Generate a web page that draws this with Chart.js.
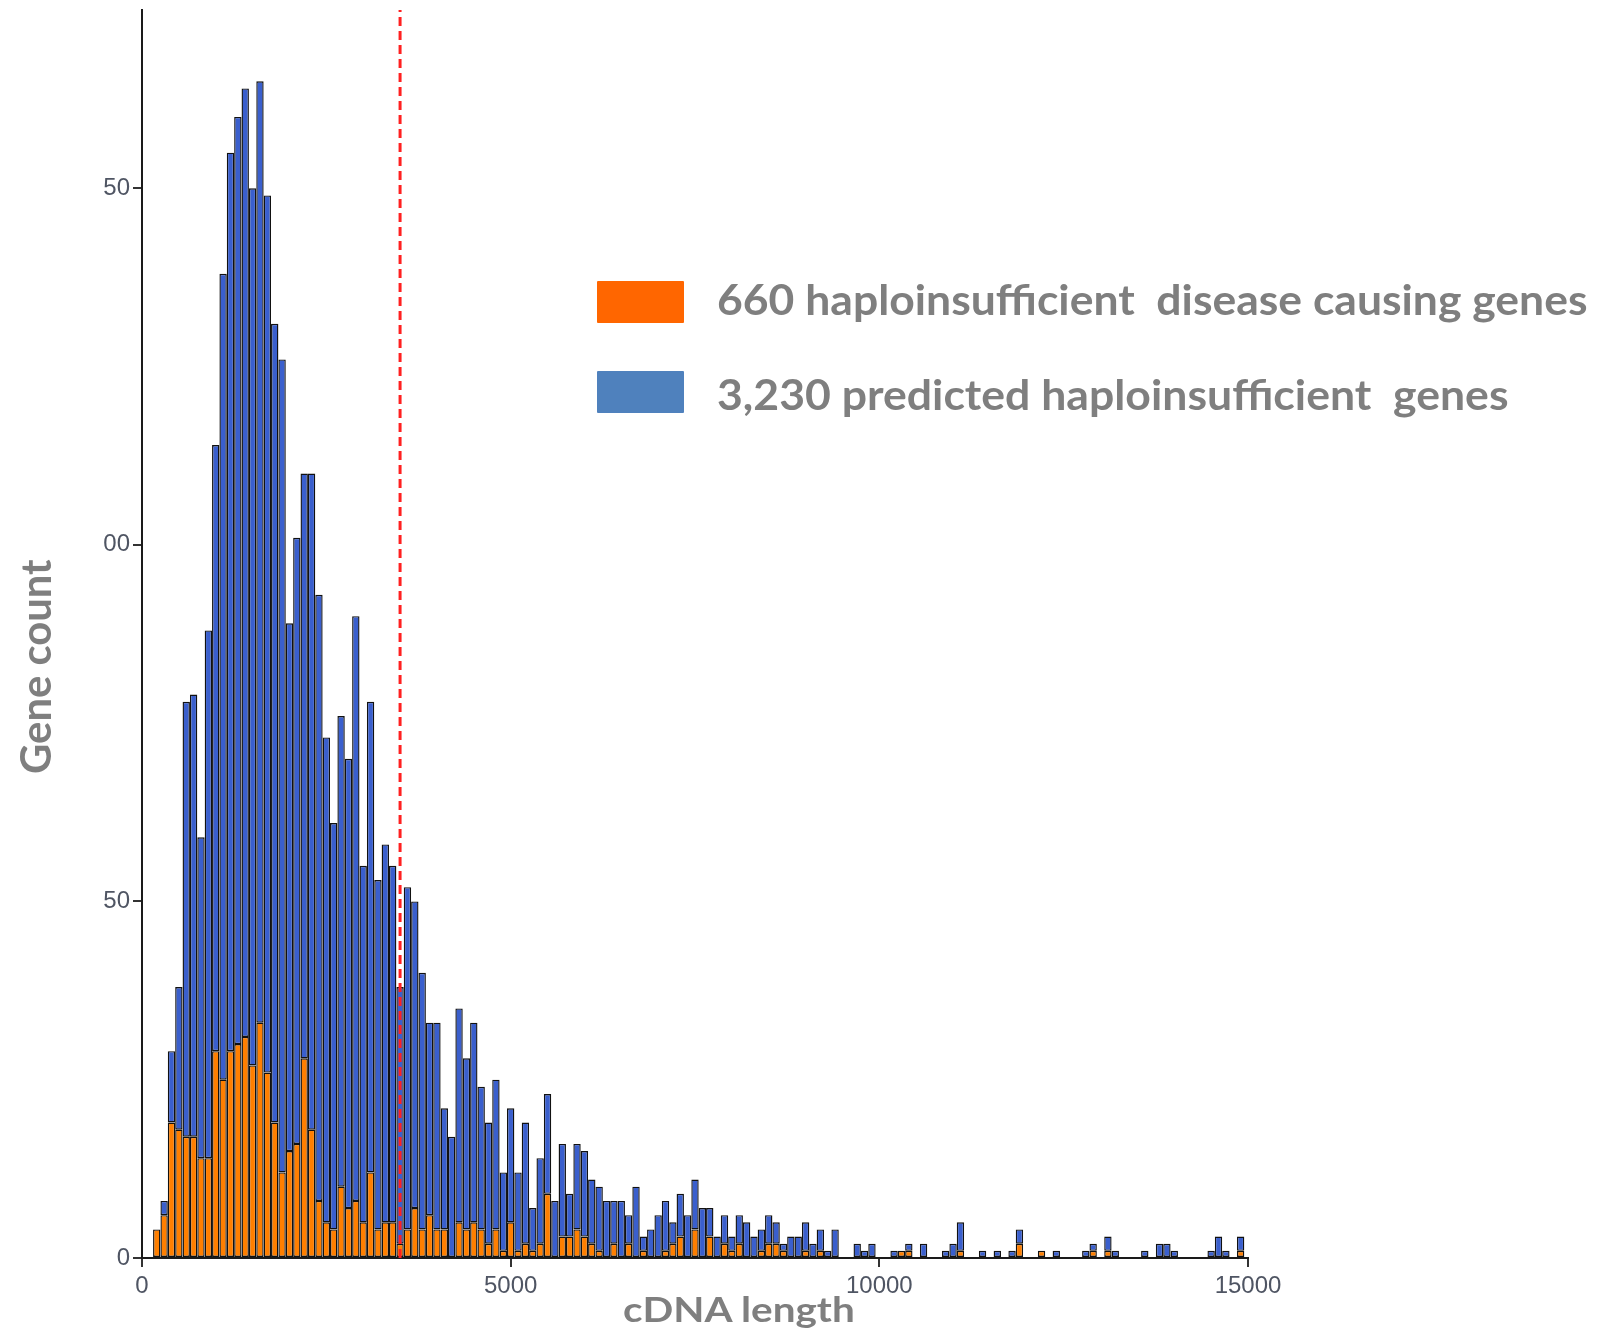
<!DOCTYPE html>
<html>
<head>
<meta charset="utf-8">
<title>cDNA length of haploinsufficient genes</title>
<script src="https://cdn.jsdelivr.net/npm/chart.js@4.4.1/dist/chart.umd.min.js"></script>
<style>
  html, body { margin: 0; padding: 0; background: #fff; }
  #wrap { position: relative; width: 1601px; height: 1333px; overflow: hidden; background: #fff; }
  #chart { position: absolute; left: 0; top: 0; }
  .lbl { position: absolute; font-family: Lato, "Open Sans", sans-serif; font-weight: 700;
         color: #7f7f7f; white-space: pre; }
  .swatch { position: absolute; width: 87px; height: 42px; border-radius: 1px; }
</style>
</head>
<body>
<div id="wrap">
  <canvas id="chart" width="1601" height="1333"></canvas>
  <div class="swatch" style="left:597px;top:281px;background:#ff6600"></div>
  <div class="swatch" style="left:597px;top:371px;background:#4f81bd"></div>
  <div class="lbl" id="leg1">660 haploinsufficient  disease causing genes</div>
  <div class="lbl" id="leg2">3,230 predicted haploinsufficient  genes</div>
  <div class="lbl" id="xtitle">cDNA length</div>
  <div class="lbl" id="ytitle">Gene count</div>
</div>
<script>
// histogram, 100 bp bins centred on 0, 100, ..., 14900 (stacked: disease genes at the bottom)
const BIN_WIDTH = 100;

// orange: haploinsufficient disease causing genes per bin
const DISEASE = [
  0, 0, 4, 6, 19, 18, 17, 17, 14, 14,
  29, 25, 29, 30, 31, 27, 33, 26, 19, 12,
  15, 16, 28, 18, 8, 5, 4, 10, 7, 8,
  5, 12, 4, 5, 5, 2, 4, 7, 4, 6,
  4, 4, 0, 5, 4, 5, 4, 2, 4, 1,
  5, 1, 2, 1, 2, 9, 0, 3, 3, 4,
  3, 2, 1, 0, 2, 0, 2, 0, 1, 0,
  0, 1, 2, 3, 0, 4, 0, 3, 0, 2,
  1, 2, 0, 0, 1, 2, 2, 1, 0, 0,
  1, 0, 1, 0, 0, 0, 0, 0, 0, 0,
  0, 0, 0, 1, 1, 0, 0, 0, 0, 0,
  0, 1, 0, 0, 0, 0, 0, 0, 0, 2,
  0, 0, 1, 0, 0, 0, 0, 0, 0, 1,
  0, 1, 0, 0, 0, 0, 0, 0, 0, 0,
  0, 0, 0, 0, 0, 0, 0, 0, 0, 1,
];

// blue: predicted haploinsufficient genes per bin (segment stacked on top of orange)
const PREDICTED = [
  0, 0, 0, 2, 10, 20, 61, 62, 45, 74,
  85, 113, 126, 130, 133, 123, 132, 123, 112, 114,
  74, 85, 82, 92, 85, 68, 57, 66, 63, 82,
  50, 66, 49, 53, 50, 36, 48, 43, 36, 27,
  29, 17, 17, 30, 24, 28, 20, 17, 21, 11,
  16, 11, 17, 6, 12, 14, 8, 13, 6, 12,
  12, 9, 9, 8, 6, 8, 4, 10, 2, 4,
  6, 7, 3, 6, 6, 7, 7, 4, 3, 4,
  2, 4, 5, 3, 3, 4, 3, 1, 3, 3,
  4, 2, 3, 1, 4, 0, 0, 2, 1, 2,
  0, 0, 1, 0, 1, 0, 2, 0, 0, 1,
  2, 4, 0, 0, 1, 0, 1, 0, 1, 2,
  0, 0, 0, 0, 1, 0, 0, 0, 1, 1,
  0, 2, 1, 0, 0, 0, 1, 0, 2, 2,
  1, 0, 0, 0, 0, 1, 3, 1, 0, 2,
];

const X_TICKS = [0, 5000, 10000, 15000];
const Y_TICKS = [0, 50, 100, 150];
const X_MAX = 15000;
const Y_MAX = 175;
const CUTOFF = 3500;

const toXY = vals => vals.map((v, i) => ({ x: i * BIN_WIDTH, y: v }));

const tickFont = { family: "Liberation Sans", size: 24 };
const tickColor = "#4f5563";
const axisGrid = { display: true, drawOnChartArea: false, drawTicks: true, tickLength: 9,
                   color: "#333", lineWidth: 2, offset: false };
const axisBorder = { display: true, color: "#1a1a1a", width: 2 };

const barStyle = { borderColor: "#111", borderWidth: 1.4, borderSkipped: false, inflateAmount: 0,
                   barPercentage: 1, categoryPercentage: 1, order: 1 };

new Chart(document.getElementById("chart").getContext("2d"), {
  type: "bar",
  data: {
    datasets: [
      { label: "660 haploinsufficient disease causing genes", data: toXY(DISEASE),
        backgroundColor: "#ff7f00", ...barStyle },
      { label: "3,230 predicted haploinsufficient genes", data: toXY(PREDICTED),
        backgroundColor: "#3a5fcd", ...barStyle },
      { type: "line", label: "cutoff", stack: "cutoff", order: 0,
        data: [{ x: CUTOFF, y: 0 }, { x: CUTOFF, y: Y_MAX }],
        borderColor: "#ff2020", borderWidth: 3, borderDash: [9, 5], pointRadius: 0, fill: false },
    ],
  },
  options: {
    responsive: false,
    animation: false,
    devicePixelRatio: 1,
    layout: { padding: { left: 0, top: 10, right: 353, bottom: 0 } },
    plugins: { legend: { display: false }, tooltip: { enabled: false } },
    scales: {
      x: {
        type: "linear", min: 0, max: X_MAX, stacked: true, offset: false,
        afterBuildTicks: s => { s.ticks = X_TICKS.map(v => ({ value: v })); },
        afterFit: s => { s.height = 75; s.paddingLeft = 0; s.paddingRight = 0; },
        grid: axisGrid, border: axisBorder,
        ticks: { font: tickFont, color: tickColor, padding: 5, maxRotation: 0, autoSkip: false,
                 callback: v => String(v) },
      },
      y: {
        type: "linear", min: 0, max: Y_MAX, stacked: true,
        afterBuildTicks: s => { s.ticks = Y_TICKS.map(v => ({ value: v })); },
        afterFit: s => { s.width = 142; s.paddingTop = 0; s.paddingBottom = 0; },
        grid: axisGrid, border: axisBorder,
        // the original's left-hand digits are cut off ("150" shows as "50")
        ticks: { font: tickFont, color: tickColor, padding: 3, callback: v => String(v).slice(-2) },
      },
    },
  },
});

// place the html labels by baseline, cap height and ink length
const CAP_RATIO = 0.7165; // Lato cap height / em
const mctx = document.createElement("canvas").getContext("2d");

function placeLabel(id, { x, y, cap, length, rotate }) {
  const el = document.getElementById(id);
  const size = cap / CAP_RATIO;
  mctx.font = `700 ${size}px Lato`;
  const m = mctx.measureText(el.textContent);
  const ink = m.actualBoundingBoxLeft + m.actualBoundingBoxRight;
  const s = length / ink;
  const asc = m.fontBoundingBoxAscent, desc = m.fontBoundingBoxDescent;
  el.style.fontSize = size + "px";
  el.style.lineHeight = (asc + desc) + "px";
  el.style.transformOrigin = `0px ${asc}px`;
  if (rotate) {
    el.style.left = x + "px";
    el.style.top = (y - m.actualBoundingBoxLeft * s - asc) + "px";
    el.style.transform = `rotate(-90deg) scaleX(${s})`;
  } else {
    el.style.left = (x + m.actualBoundingBoxLeft * s) + "px";
    el.style.top = (y - asc) + "px";
    el.style.transform = `scaleX(${s})`;
  }
}

function placeAll() {
  placeLabel("leg1", { x: 718, y: 315, cap: 30, length: 869 });
  placeLabel("leg2", { x: 718, y: 410, cap: 30, length: 790 });
  placeLabel("xtitle", { x: 624, y: 1322, cap: 25, length: 230 });
  placeLabel("ytitle", { x: 51, y: 773, cap: 30, length: 214, rotate: true });
}

placeAll();
document.fonts.load("700 40px Lato").then(placeAll);
</script>
</body>
</html>
